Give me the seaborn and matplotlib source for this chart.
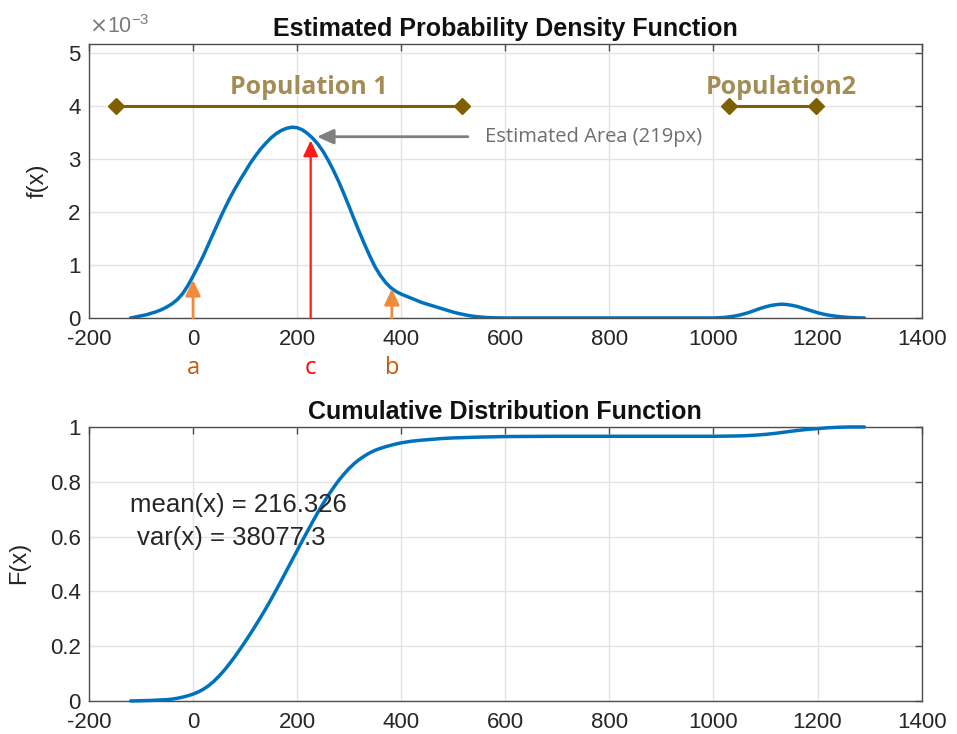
import matplotlib
matplotlib.use("Agg")
import matplotlib.pyplot as plt
import seaborn as sns
import pandas as pd

# ---------------- data ----------------
pdf_x = [-120, -110, -100, -90, -80, -70, -60, -50, -40, -30, -20, -10, 0, 10, 20, 30,
         40, 50, 60, 70, 80, 90, 100, 110, 120, 130, 140, 150, 160, 170, 180, 190,
         200, 210, 220, 230, 240, 250, 260, 270, 280, 290, 300, 310, 320, 330, 340,
         350, 360, 370, 380, 390, 400, 410, 420, 430, 440, 450, 460, 470, 480, 490,
         500, 510, 520, 530, 540, 550, 560, 570, 580, 600, 700, 800, 900, 1000, 1010,
         1020, 1030, 1040, 1050, 1060, 1070, 1080, 1090, 1100, 1110, 1120, 1130, 1140,
         1150, 1160, 1170, 1180, 1190, 1200, 1210, 1220, 1230, 1240, 1250, 1260, 1270,
         1290]
pdf_y_e3 = [0.00, 0.02, 0.04, 0.06, 0.09, 0.12, 0.16, 0.21, 0.27, 0.35, 0.46, 0.61,
            0.79, 0.98, 1.18, 1.40, 1.62, 1.84, 2.05, 2.25, 2.43, 2.60, 2.76, 2.92,
            3.06, 3.19, 3.30, 3.40, 3.48, 3.54, 3.58, 3.60, 3.59, 3.55, 3.48, 3.39,
            3.28, 3.14, 2.97, 2.78, 2.57, 2.34, 2.10, 1.85, 1.61, 1.38, 1.16, 0.96,
            0.80, 0.67, 0.57, 0.50, 0.45, 0.41, 0.37, 0.33, 0.29, 0.26, 0.23, 0.20,
            0.17, 0.14, 0.11, 0.085, 0.065, 0.045, 0.03, 0.02, 0.012, 0.006, 0.003,
            0.0, 0.0, 0.0, 0.0, 0.0, 0.005, 0.01, 0.02, 0.035, 0.055, 0.08, 0.11,
            0.145, 0.18, 0.21, 0.235, 0.25, 0.26, 0.255, 0.24, 0.22, 0.19, 0.16, 0.13,
            0.10, 0.075, 0.055, 0.04, 0.028, 0.018, 0.01, 0.005, 0.0]

cdf_x = [-120, -100, -80, -60, -50, -40, -30, -20, -10, 0, 10, 20, 30, 40, 50, 60, 70,
         80, 90, 100, 110, 120, 130, 140, 150, 160, 170, 180, 190, 200, 210, 220, 230,
         240, 250, 260, 270, 280, 290, 300, 310, 320, 330, 340, 350, 360, 370, 380,
         390, 400, 420, 440, 460, 480, 500, 550, 600, 700, 800, 1000, 1040, 1060, 1080,
         1100, 1120, 1140, 1160, 1180, 1200, 1220, 1240, 1260, 1290]
cdf_y = [0.0, 0.001, 0.002, 0.004, 0.005, 0.007, 0.010, 0.014, 0.019, 0.025, 0.033,
         0.043, 0.056, 0.072, 0.091, 0.112, 0.136, 0.161, 0.188, 0.216, 0.245, 0.275,
         0.306, 0.338, 0.371, 0.406, 0.441, 0.477, 0.513, 0.549, 0.585, 0.620, 0.655,
         0.689, 0.721, 0.751, 0.779, 0.805, 0.828, 0.849, 0.867, 0.882, 0.895, 0.906,
         0.915, 0.922, 0.928, 0.933, 0.938, 0.942, 0.948, 0.952, 0.955, 0.958, 0.960,
         0.963, 0.965, 0.966, 0.966, 0.966, 0.967, 0.968, 0.970, 0.973, 0.977, 0.982,
         0.987, 0.991, 0.994, 0.997, 0.999, 1.0, 1.0]

pop_names = ["Population 1", "Population2"]
pop_start = [-148, 1029]
pop_end = [516, 1198]
pop_label_x = [223, 1131]
pop_level_e3 = 4.0
pop_label_y_e3 = 4.34

marker_labels = ["a", "c", "b"]
marker_x = [0, 226, 382]
marker_top_e3 = [0.72, 3.35, 0.55]
marker_colors = ["#F08A3C", "#FF1A1A", "#F08A3C"]
marker_text_colors = ["#C55A11", "#FF0000", "#C55A11"]

area_label = "Estimated Area (219px)"
area_tip = (238, 3.42)
area_tail_x = 528
area_text_x = 561

mean_text = "mean(x) = 216.326"
var_text = "var(x) = 38077.3"

x_ticks = [-200, 0, 200, 400, 600, 800, 1000, 1200, 1400]
pdf_ticks = [0, 1, 2, 3, 4, 5]
cdf_ticks = [0, 0.2, 0.4, 0.6, 0.8, 1.0]
cdf_tick_labels = ["0", "0.2", "0.4", "0.6", "0.8", "1"]

# ---------------- style ----------------
sns.set_style("white")
plt.rcParams["font.family"] = ["Liberation Sans", "DejaVu Sans"]

BLUE = "#0072BD"
GOLD_LINE = "#7F6000"
GOLD_TEXT = "#A38D55"
AX_COL = "#4D4D4D"
TXT_COL = "#262626"

fig = plt.figure(figsize=(9.57, 7.34), dpi=100)
ax1 = fig.add_axes([0.093, 0.5668, 0.870, 0.3733])
ax2 = fig.add_axes([0.093, 0.0450, 0.870, 0.3733])

df_pdf = pd.DataFrame({"x": pdf_x, "y": pdf_y_e3})
df_cdf = pd.DataFrame({"x": cdf_x, "y": cdf_y})


def style_axes(ax):
    ax.set_xlim(-200, 1400)
    ax.set_xticks(x_ticks)
    ax.set_xticklabels([str(t) for t in x_ticks])
    ax.grid(True, color="#E3E3E3", lw=1.0)
    ax.set_axisbelow(True)
    for s in ax.spines.values():
        s.set_visible(True)
        s.set_color(AX_COL)
        s.set_linewidth(1.0)
    ax.tick_params(direction="in", top=True, right=True, length=5, width=1,
                   color=AX_COL, labelsize=16, labelcolor=TXT_COL)
    ax.tick_params(axis="x", pad=8)
    ax.tick_params(axis="y", pad=6)


# ---- top: PDF ----
sns.lineplot(data=df_pdf, x="x", y="y", ax=ax1, color=BLUE, lw=2.5, zorder=3)
style_axes(ax1)
ax1.set_ylim(0, 5.17)
ax1.set_yticks(pdf_ticks)
ax1.set_yticklabels([str(t) for t in pdf_ticks])
ax1.set_xlabel("")
ax1.set_ylabel("f(x)", fontsize=17, color=TXT_COL)
ax1.yaxis.set_label_coords(-0.049, 0.5)
ax1.set_title("Estimated Probability Density Function", fontsize=18,
              fontweight="bold", color="#111111", pad=6)
ax1.text(0.0, 1.02, r"$\times$10$^{\mathregular{-3}}$", transform=ax1.transAxes,
         fontsize=15.5, color="#7A7A7A", ha="left", va="bottom")

# population ranges
for name, s, e, lx in zip(pop_names, pop_start, pop_end, pop_label_x):
    ax1.plot([s, e], [pop_level_e3, pop_level_e3], color=GOLD_LINE, lw=2.2,
             marker="D", ms=8, zorder=4)
    ax1.text(lx, pop_label_y_e3, name, ha="center", va="center", fontsize=18,
             fontweight="bold", color=GOLD_TEXT, family=["Open Sans", "DejaVu Sans"])

# a, b, c arrows
for lab, mx, mt, col, tcol in zip(marker_labels, marker_x, marker_top_e3,
                                  marker_colors, marker_text_colors):
    lw = 1.6 if lab == "c" else 2.0
    ax1.annotate("", xy=(mx, mt), xytext=(mx, 0), zorder=5,
                 arrowprops=dict(arrowstyle="-|>,head_length=0.95,head_width=0.45",
                                 color=col, lw=lw, shrinkA=0, shrinkB=0))
    ax1.annotate(lab, xy=(mx, 0), xycoords="data", xytext=(0, -36),
                 textcoords="offset points", ha="center", va="center",
                 fontsize=17, color=tcol, family=["Open Sans", "DejaVu Sans"])

# estimated area arrow
ax1.annotate("", xy=area_tip, xytext=(area_tail_x, area_tip[1]), zorder=5,
             arrowprops=dict(arrowstyle="-|>,head_length=1.0,head_width=0.45",
                             color="#7F7F7F", lw=2.0, shrinkA=0, shrinkB=0))
ax1.text(area_text_x, area_tip[1], area_label, ha="left", va="center", fontsize=14.5,
         color="#6E6E6E", family=["Open Sans", "DejaVu Sans"])

# ---- bottom: CDF ----
sns.lineplot(data=df_cdf, x="x", y="y", ax=ax2, color=BLUE, lw=2.5, zorder=3,
             clip_on=False)
style_axes(ax2)
ax2.set_ylim(0, 1)
ax2.set_yticks(cdf_ticks)
ax2.set_yticklabels(cdf_tick_labels)
ax2.set_xlabel("")
ax2.set_ylabel("F(x)", fontsize=17, color=TXT_COL)
ax2.yaxis.set_label_coords(-0.071, 0.505)
ax2.set_title("Cumulative Distribution Function", fontsize=18,
              fontweight="bold", color="#111111", pad=6)
ax2.text(-121, 0.717, mean_text, ha="left", va="center", fontsize=18.5, color=TXT_COL)
ax2.text(-108, 0.596, var_text, ha="left", va="center", fontsize=18.5, color=TXT_COL)

fig.savefig("out.png", dpi=100, facecolor="white")
